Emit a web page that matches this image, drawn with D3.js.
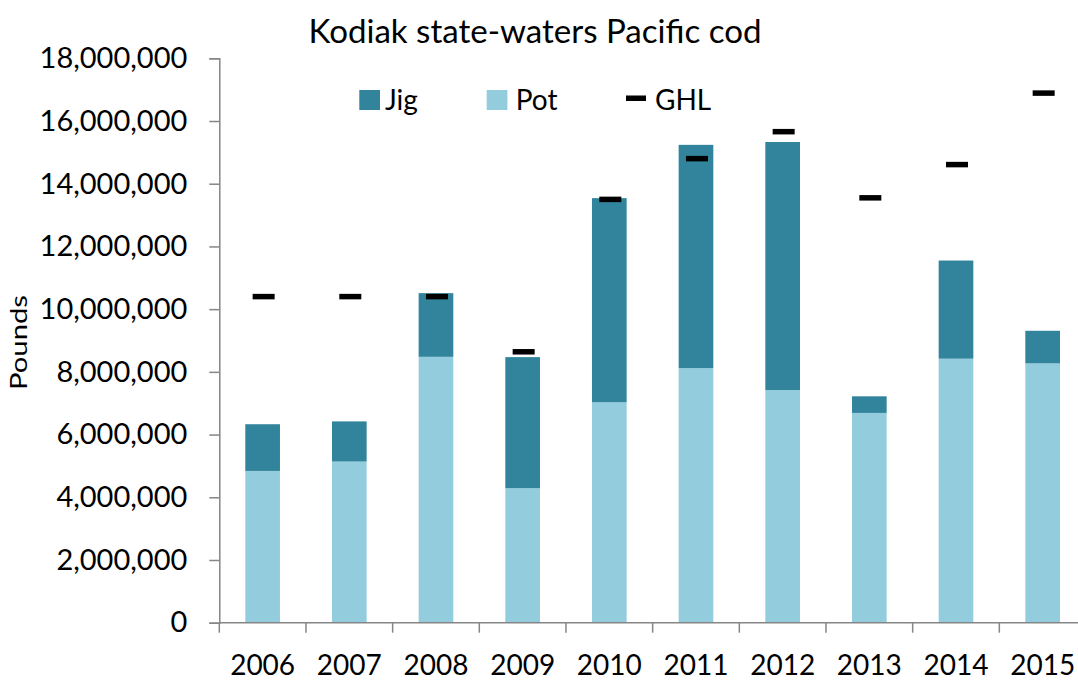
<!DOCTYPE html>
<html>
<head>
<meta charset="utf-8">
<script src="https://cdn.jsdelivr.net/npm/d3@7"></script>
<style>
  html, body { margin: 0; padding: 0; background: #fff; }
  svg text { font-family: Lato, "Open Sans", sans-serif; fill: #000; }
</style>
</head>
<body>
<svg id="chart" width="1078" height="682"></svg>
<script>
const years = ["2006","2007","2008","2009","2010","2011","2012","2013","2014","2015"];
const pot = [4840000, 5140000, 8480000, 4290000, 7030000, 8120000, 7420000, 6690000, 8420000, 8270000];
const jig = [1490000, 1280000, 2030000, 4180000, 6510000, 7120000, 7910000, 530000, 3130000, 1040000];
const ghl = [10400000, 10400000, 10400000, 8640000, 13500000, 14800000, 15660000, 13550000, 14610000, 16890000];
const yTicks = [0, 2000000, 4000000, 6000000, 8000000, 10000000, 12000000, 14000000, 16000000, 18000000];
const seriesNames = ["Jig", "Pot", "GHL"];
const colors = { Jig: "#31849B", Pot: "#93CDDD", GHL: "#000000" };

(function () {
const svg = d3.select("#chart");
const pLeft = 219.3, pRight = 1086, pTop = 58.3, pBottom = 622.7;

const x = d3.scaleBand().domain(years).range([pLeft, pRight]).padding(0);
const y = d3.scaleLinear().domain([0, 18000000]).range([pBottom, pTop]);
const barW = x.bandwidth() * 0.4;

const rows = years.map((yr, i) => ({ year: yr, Pot: pot[i], Jig: jig[i], GHL: ghl[i] }));
const stack = d3.stack().keys(["Pot", "Jig"])(rows);

// bars
svg.append("g").selectAll("g").data(stack).join("g")
  .attr("fill", d => colors[d.key])
  .selectAll("rect").data(d => d).join("rect")
  .attr("x", d => x(d.data.year) + x.bandwidth() / 2 - barW / 2)
  .attr("width", barW)
  .attr("y", d => y(d[1]))
  .attr("height", d => y(d[0]) - y(d[1]));

// GHL markers
svg.append("g").selectAll("rect").data(rows).join("rect")
  .attr("x", d => x(d.year) + x.bandwidth() / 2 - 10)
  .attr("width", 22)
  .attr("y", d => y(d.GHL) - 2.75)
  .attr("height", 5.5)
  .attr("fill", colors.GHL);

// Y axis
const yAxis = svg.append("g").attr("transform", `translate(${pLeft},0)`)
  .call(d3.axisLeft(y).tickValues(yTicks).tickSize(10).tickSizeOuter(10).tickPadding(22)
    .tickFormat(d3.format(",")));
yAxis.selectAll("path, line").attr("stroke", "#868686").attr("stroke-width", 1.5);
yAxis.selectAll("text").attr("font-size", 29).attr("font-family", "Lato, sans-serif").attr("fill", "#000");

// X axis
const xAxisG = svg.append("g");
xAxisG.append("line").attr("x1", pLeft).attr("x2", pRight).attr("y1", pBottom).attr("y2", pBottom)
  .attr("stroke", "#868686").attr("stroke-width", 1.5);
const bounds = years.map(d => x(d)).concat([pRight]);
xAxisG.selectAll("line.tk").data(bounds).join("line").attr("class", "tk")
  .attr("x1", d => d).attr("x2", d => d).attr("y1", pBottom).attr("y2", pBottom + 10)
  .attr("stroke", "#868686").attr("stroke-width", 1.5);
xAxisG.selectAll("text").data(years).join("text")
  .attr("x", d => x(d) + x.bandwidth() / 2)
  .attr("y", 675)
  .attr("text-anchor", "middle")
  .attr("font-size", 28)
  .text(d => d);

// Title
svg.append("text").attr("x", 535).attr("y", 43.3).attr("text-anchor", "middle")
  .attr("font-size", 32).attr("textLength", 453).attr("lengthAdjust", "spacingAndGlyphs")
  .text("Kodiak state-waters Pacific cod");

// Y title
svg.append("text").attr("transform", "translate(27,342.5) rotate(-90)")
  .attr("text-anchor", "middle").attr("font-size", 24)
  .attr("textLength", 95).attr("lengthAdjust", "spacingAndGlyphs")
  .text("Pounds");

// Legend
const legend = svg.append("g");
const legItems = [
  { name: seriesNames[0], sx: 359.3, tx: 385 },
  { name: seriesNames[1], sx: 486.7, tx: 515.7 },
  { name: seriesNames[2], sx: 626, tx: 655 }
];
legItems.forEach(it => {
  if (it.name === "GHL") {
    legend.append("rect").attr("x", it.sx).attr("y", 95.5).attr("width", 20).attr("height", 5.5).attr("fill", colors.GHL);
  } else {
    legend.append("rect").attr("x", it.sx).attr("y", 90).attr("width", 20.7).attr("height", 20).attr("fill", colors[it.name]);
  }
  legend.append("text").attr("x", it.tx).attr("y", 110).attr("font-size", 28).text(it.name);
});
})();
</script>
</body>
</html>
